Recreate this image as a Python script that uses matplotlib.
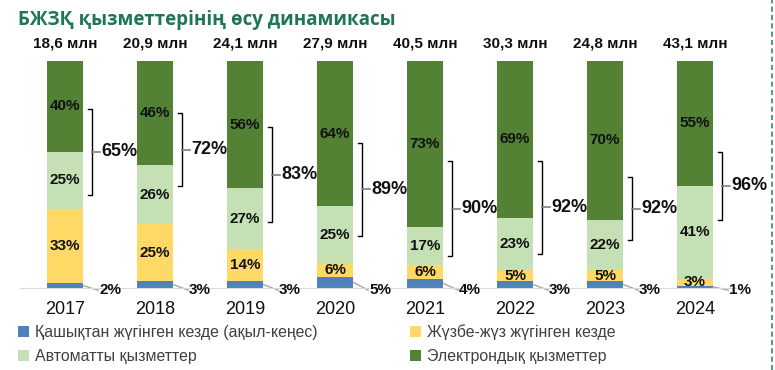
import matplotlib.pyplot as plt
import numpy as np

# data
years = ['2017', '2018', '2019', '2020', '2021', '2022', '2023', '2024']
totals = ['18,6 млн', '20,9 млн', '24,1 млн', '27,9 млн', '40,5 млн', '30,3 млн', '24,8 млн', '43,1 млн']
remote = [2, 3, 3, 5, 4, 3, 3, 1]
in_person = [33, 25, 14, 6, 6, 5, 5, 3]
automated = [25, 26, 27, 25, 17, 23, 22, 41]
electronic = [40, 46, 56, 64, 73, 69, 70, 55]
digital_share = [65, 72, 83, 89, 90, 92, 92, 96]

series_names = ['Қашықтан жүгінген кезде (ақыл-кеңес)', 'Жүзбе-жүз жүгінген кезде',
                'Автоматты қызметтер', 'Электрондық қызметтер']
colors = ['#4f81bd', '#ffd966', '#c5e0b4', '#548235']

# where the brackets were drawn (percent of bar height)
bracket_lo = [41, 45, 29, 23, 14, 15, 21, 30]
bracket_hi = [79, 77, 71, 64, 56, 56, 49, 60]

fig = plt.figure(figsize=(7.75, 3.7), dpi=100)
ax = fig.add_axes([20 / 775, 82 / 370, 720 / 775, 227 / 370])

x = np.arange(len(years))
width = 0.41
bottom = np.zeros(len(years))
bars = []
for vals, col, name in zip([remote, in_person, automated, electronic], colors, series_names):
    b = ax.bar(x, vals, width, bottom=bottom, color=col, label=name)
    bars.append(b)
    bottom += np.array(vals)

ax.set_xlim(-0.5, 7.5)
ax.set_ylim(0, 100)
for s in ['top', 'right', 'left']:
    ax.spines[s].set_visible(False)
ax.spines['bottom'].set_color('#d9d9d9')
ax.set_yticks([])
ax.set_xticks(x)
ax.set_xticklabels(years, fontsize=13, family='Liberation Sans', color='#111111')
ax.tick_params(axis='x', length=0, pad=9)

# labels inside segments (all but the blue one)
seg_lists = [in_person, automated, electronic]
base = np.array(remote, dtype=float)
for vals in seg_lists:
    for i, v in enumerate(vals):
        ax.text(i, base[i] + v / 2, f'{v}%', ha='center', va='center',
                fontsize=11, fontweight='bold', family='Liberation Sans', color='#111111')
    base += np.array(vals)

# blue segment labels with leader lines
for i, v in enumerate(remote):
    lx = i + 0.5
    ly = -1
    ax.plot([i + width / 2, lx - 0.13], [v / 2, ly], color='#a6a6a6', lw=1, clip_on=False)
    ax.text(lx, ly, f'{v}%', ha='center', va='center', fontsize=11, fontweight='bold',
            family='Liberation Sans', color='#111111', clip_on=False)

# brackets with the digital share
for i, (lo, hi, share) in enumerate(zip(bracket_lo, bracket_hi, digital_share)):
    bx = i + 0.3
    ax.plot([bx - 0.05, bx, bx, bx - 0.05], [hi, hi, lo, lo], color='black', lw=1)
    mid = (lo + hi) / 2
    ax.plot([bx, bx + 0.09], [mid, mid], color='#7f7f7f', lw=1.2)
    ax.text(bx + 0.1, mid, f'{share}%', ha='left', va='center', fontsize=13,
            fontweight='bold', family='Liberation Sans', color='#111111')

# totals above bars
for i, t in enumerate(totals):
    ax.text(i, 107.5, t, ha='center', va='center', fontsize=11, fontweight='bold',
            family='Liberation Sans', color='#111111', clip_on=False)

fig.text(18 / 775, 1 - 20 / 370, 'БЖЗҚ қызметтерінің өсу динамикасы', ha='left', va='center',
         fontsize=13.5, fontweight='bold', family='Open Sans', color='#1e7558')

# slide border on the right
fig.add_artist(plt.Line2D([772 / 775, 772 / 775], [0, 1], color='#2e8b6e', lw=1.2,
                          linestyle=(0, (3, 2))))

# legend filled row by row like the original
order = [0, 2, 1, 3]
leg = fig.legend(handles=[bars[k] for k in order], labels=[series_names[k] for k in order],
                 loc='upper left', ncol=2,
                 bbox_to_anchor=(18 / 775, 1 - 324 / 370), frameon=False,
                 borderpad=0, borderaxespad=0,
                 handlelength=0.7, handleheight=0.7, handletextpad=0.4,
                 columnspacing=5.8, labelspacing=0.6,
                 prop={'family': 'Liberation Sans', 'size': 11.4})
for t in leg.get_texts():
    t.set_color('#404040')

fig.savefig('out.png', dpi=100)
